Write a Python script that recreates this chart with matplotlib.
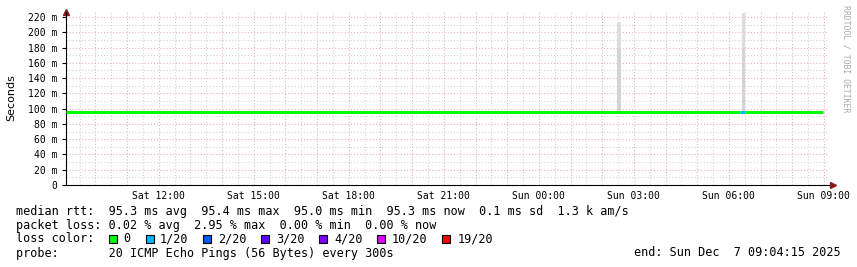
import matplotlib
matplotlib.use("Agg")
import matplotlib.pyplot as plt

# time in hours since Sat 00:00
t_start = 9.0708   # Sat 09:04:15
t_axis_end = 33.16

# median rtt (ms) between breakpoints, loss class per segment
seg_t = [9.0708, 30.35, 30.51, 32.97]
seg_rtt = [95.3, 95.3, 95.3]
seg_loss = [0, 1, 0]

# smoke spikes: start, end, low, high (ms)
smoke_t0 = [26.46, 30.40]
smoke_t1 = [26.60, 30.52]
smoke_lo = [96, 96]
smoke_mid = [180, 180]
smoke_hi = [214, 225]

loss_labels = ["0", "1/20", "2/20", "3/20", "4/20", "10/20", "19/20"]
loss_colors = ["#00ff00", "#00b8ff", "#0059ff", "#5e00ff", "#7e00ff", "#dd00ff", "#ff0000"]

xtick_pos = [12, 15, 18, 21, 24, 27, 30, 33]
xtick_lab = ["Sat 12:00", "Sat 15:00", "Sat 18:00", "Sat 21:00",
             "Sun 00:00", "Sun 03:00", "Sun 06:00", "Sun 09:00"]
ytick_pos = list(range(0, 221, 20))
ytick_lab = ["0"] + ["%d m" % v for v in ytick_pos[1:]]

W, H = 857, 267
fig = plt.figure(figsize=(W / 100, H / 100), dpi=100)
fig.patch.set_facecolor("white")

# axes in pixel coords
x0, x1, ytop, ybot = 66, 829, 12, 185
ax = fig.add_axes([x0 / W, (H - ybot) / H, (x1 - x0) / W, (ybot - ytop) / H])
ax.set_xlim(t_start, t_axis_end)
ax.set_ylim(0, 226.5)

mono = "DejaVu Sans Mono"
red_grid = (0.92, 0.68, 0.68)
gray_grid = (0.82, 0.82, 0.82)

# grid
for h in range(10, 34):
    ax.axvline(h, color=red_grid, lw=0.75, ls=(0, (1, 2)), zorder=1)
    ax.axvline(h + 0.5, color=gray_grid, lw=0.75, ls=(0, (1, 2)), zorder=1)
ax.axvline(9.5, color=gray_grid, lw=0.75, ls=(0, (1, 2)), zorder=1)
for v in range(10, 226, 10):
    if v % 20 == 0:
        ax.axhline(v, color=red_grid, lw=0.75, ls=(0, (1, 2)), zorder=1)
    else:
        ax.axhline(v, color=gray_grid, lw=0.75, ls=(0, (1, 2)), zorder=1)

# smoke
for a, b, lo, mid, hi in zip(smoke_t0, smoke_t1, smoke_lo, smoke_mid, smoke_hi):
    ax.fill_between([a, b], lo, mid, color="#d4d4d4", lw=0, zorder=2)
    ax.fill_between([a, b], mid, hi, color="#dddddd", lw=0, zorder=2)

# median line
for i in range(len(seg_rtt)):
    ax.plot([seg_t[i], seg_t[i + 1]], [seg_rtt[i], seg_rtt[i]],
            color=loss_colors[seg_loss[i]], lw=2.2, solid_capstyle="butt", zorder=3)

for s in ["top", "right"]:
    ax.spines[s].set_visible(False)
ax.spines["left"].set_color("black")
ax.spines["bottom"].set_color("black")
ax.plot([0], [1.0], marker="^", color="#8b1a1a", ms=4, transform=ax.transAxes, clip_on=False)
ax.plot([1.005], [0], marker=">", color="#8b1a1a", ms=4, transform=ax.transAxes, clip_on=False)

ax.set_xticks(xtick_pos)
ax.set_xticklabels(xtick_lab, fontfamily=mono, fontsize=7)
ax.set_yticks(ytick_pos)
ax.set_yticklabels(ytick_lab, fontfamily=mono, fontsize=7)
ax.tick_params(axis="x", length=0, pad=4)
ax.tick_params(axis="y", length=3, pad=3)

fig.text(11 / W, 1 - 98 / H, "Seconds", rotation=90, ha="center", va="center", fontsize=8)
fig.text(846 / W, 1 - 5 / H, "RRDTOOL / TOBI OETIKER", rotation=270, ha="center", va="top",
         fontsize=5.9, family=mono, color="#aaaaaa")

fs = 8.5
lines = [
    "median rtt:  95.3 ms avg  95.4 ms max  95.0 ms min  95.3 ms now  0.1 ms sd  1.3 k am/s",
    "packet loss: 0.02 % avg  2.95 % max  0.00 % min  0.00 % now",
]
fig.text(16 / W, 1 - 211 / H, lines[0], family=mono, fontsize=fs, va="center")
fig.text(16 / W, 1 - 225 / H, lines[1], family=mono, fontsize=fs, va="center")
fig.text(16 / W, 1 - 239 / H, "loss color:", family=mono, fontsize=fs, va="center")
fig.text(16 / W, 1 - 253 / H, "probe:       20 ICMP Echo Pings (56 Bytes) every 300s",
         family=mono, fontsize=fs, va="center")
fig.text(841 / W, 1 - 253 / H, "end: Sun Dec  7 09:04:15 2025", family=mono, fontsize=fs,
         va="center", ha="right")

sq_x = [108.7, 145.7, 203.3, 261.3, 319.3, 376.7, 442.5]
lab_x = [123.3, 160, 218, 276, 334, 392, 457.3]
for sx, lx, lab, col in zip(sq_x, lab_x, loss_labels, loss_colors):
    fig.patches.append(plt.Rectangle((sx / W, 1 - 243 / H), 8 / W, 8 / H, facecolor=col,
                                     edgecolor="black", lw=0.8, transform=fig.transFigure))
    fig.text(lx / W, 1 - 239 / H, lab, family=mono, fontsize=fs, va="center")

fig.savefig("out.png", dpi=100)
